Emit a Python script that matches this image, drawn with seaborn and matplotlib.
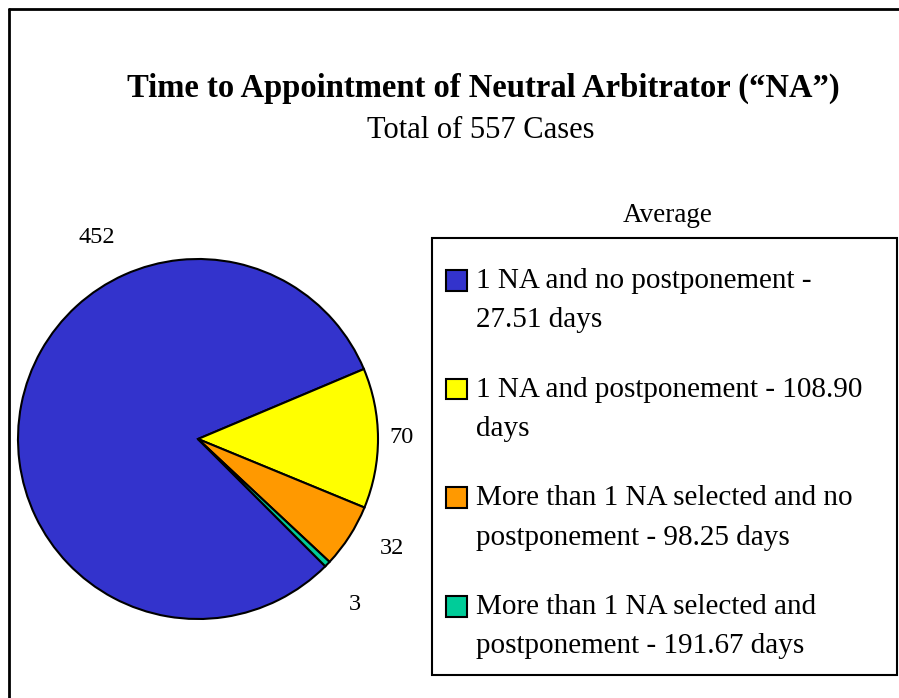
import matplotlib
matplotlib.use("Agg")
import matplotlib.pyplot as plt
import seaborn as sns
from matplotlib.lines import Line2D
from matplotlib.patches import Patch, Rectangle
from matplotlib.legend_handler import HandlerPatch

sns.set_theme(style="white")
plt.rcParams['font.family'] = ['Liberation Serif', 'DejaVu Serif']
plt.rcParams['text.color'] = 'black'

categories = ["1 NA and no postponement -\n27.51 days",
              "1 NA and postponement - 108.90\ndays",
              "More than 1 NA selected and no\npostponement - 98.25 days",
              "More than 1 NA selected and\npostponement - 191.67 days"]
cases = [452, 70, 32, 3]
colors = ["#3333CC", "#FFFF00", "#FF9900", "#00CC99"]
# where Excel put the count labels (in pie radius units)
label_pos = [(-0.56, 1.12), (1.13, 0.01), (1.08, -0.61), (0.87, -0.92)]

W, H = 899, 698
fig = plt.figure(figsize=(W / 100, H / 100), dpi=100)
fig.patch.set_facecolor("white")

# pie axes: centre (198, 439) px, radius 180 px
cx, cy, r = 198, 439, 180
ax = fig.add_axes([(cx - r) / W, (H - cy - r) / H, 2 * r / W, 2 * r / H])
wedges, texts = ax.pie(cases, colors=colors, startangle=-45, counterclock=False,
                       labels=[str(v) for v in cases],
                       wedgeprops=dict(edgecolor="black", linewidth=1.5),
                       textprops=dict(fontsize=17.5, color="black"))
for t, p in zip(texts, label_pos):
    t.set_position(p)
    t.set_ha("center")
    t.set_va("center")
ax.set_xlim(-1, 1)
ax.set_ylim(-1, 1)
ax.set_aspect("equal")
ax.axis("off")

fig.text(483 / W, 1 - 97 / H, "Time to Appointment of Neutral Arbitrator (\u201cNA\u201d)",
         ha="center", va="baseline", fontsize=23.5, fontweight="bold")
fig.text(481 / W, 1 - 138 / H, "Total of 557 Cases", ha="center", va="baseline", fontsize=22)
fig.text(668 / W, 1 - 222 / H, "Average", ha="center", va="baseline", fontsize=19.5)


# square next to the first line of each (two line) entry
def top_square(legend, orig_handle, xdescent, ydescent, width, height, fontsize):
    return Rectangle((-xdescent, -ydescent + 14.4), width, height)


handles = [Patch(facecolor=c, edgecolor="black", linewidth=1.5) for c in colors]
leg = fig.legend(handles, categories, loc="upper left",
                 bbox_to_anchor=(446 / W, 1 - 268 / H),
                 borderaxespad=0, fontsize=21, frameon=False,
                 handlelength=0.72, handleheight=0.72,
                 handletextpad=0.3, labelspacing=1.48, borderpad=0,
                 handler_map={Patch: HandlerPatch(patch_func=top_square)})
for t in leg.get_texts():
    t.set_linespacing(1.67)

# legend box drawn separately so the padding can differ top/left
fig.add_artist(Rectangle((432 / W, 1 - 675 / H), 465 / W, 437 / H, transform=fig.transFigure,
                         fill=False, edgecolor="black", linewidth=1.5))

# outer border (left and top only, rest is cut off)
fig.add_artist(Line2D([9 / W, 9 / W], [0, 1 - 9 / H], color="black", linewidth=2))
fig.add_artist(Line2D([9 / W, 1], [1 - 9 / H, 1 - 9 / H], color="black", linewidth=2))

fig.savefig("out.png", dpi=100, facecolor="white")
